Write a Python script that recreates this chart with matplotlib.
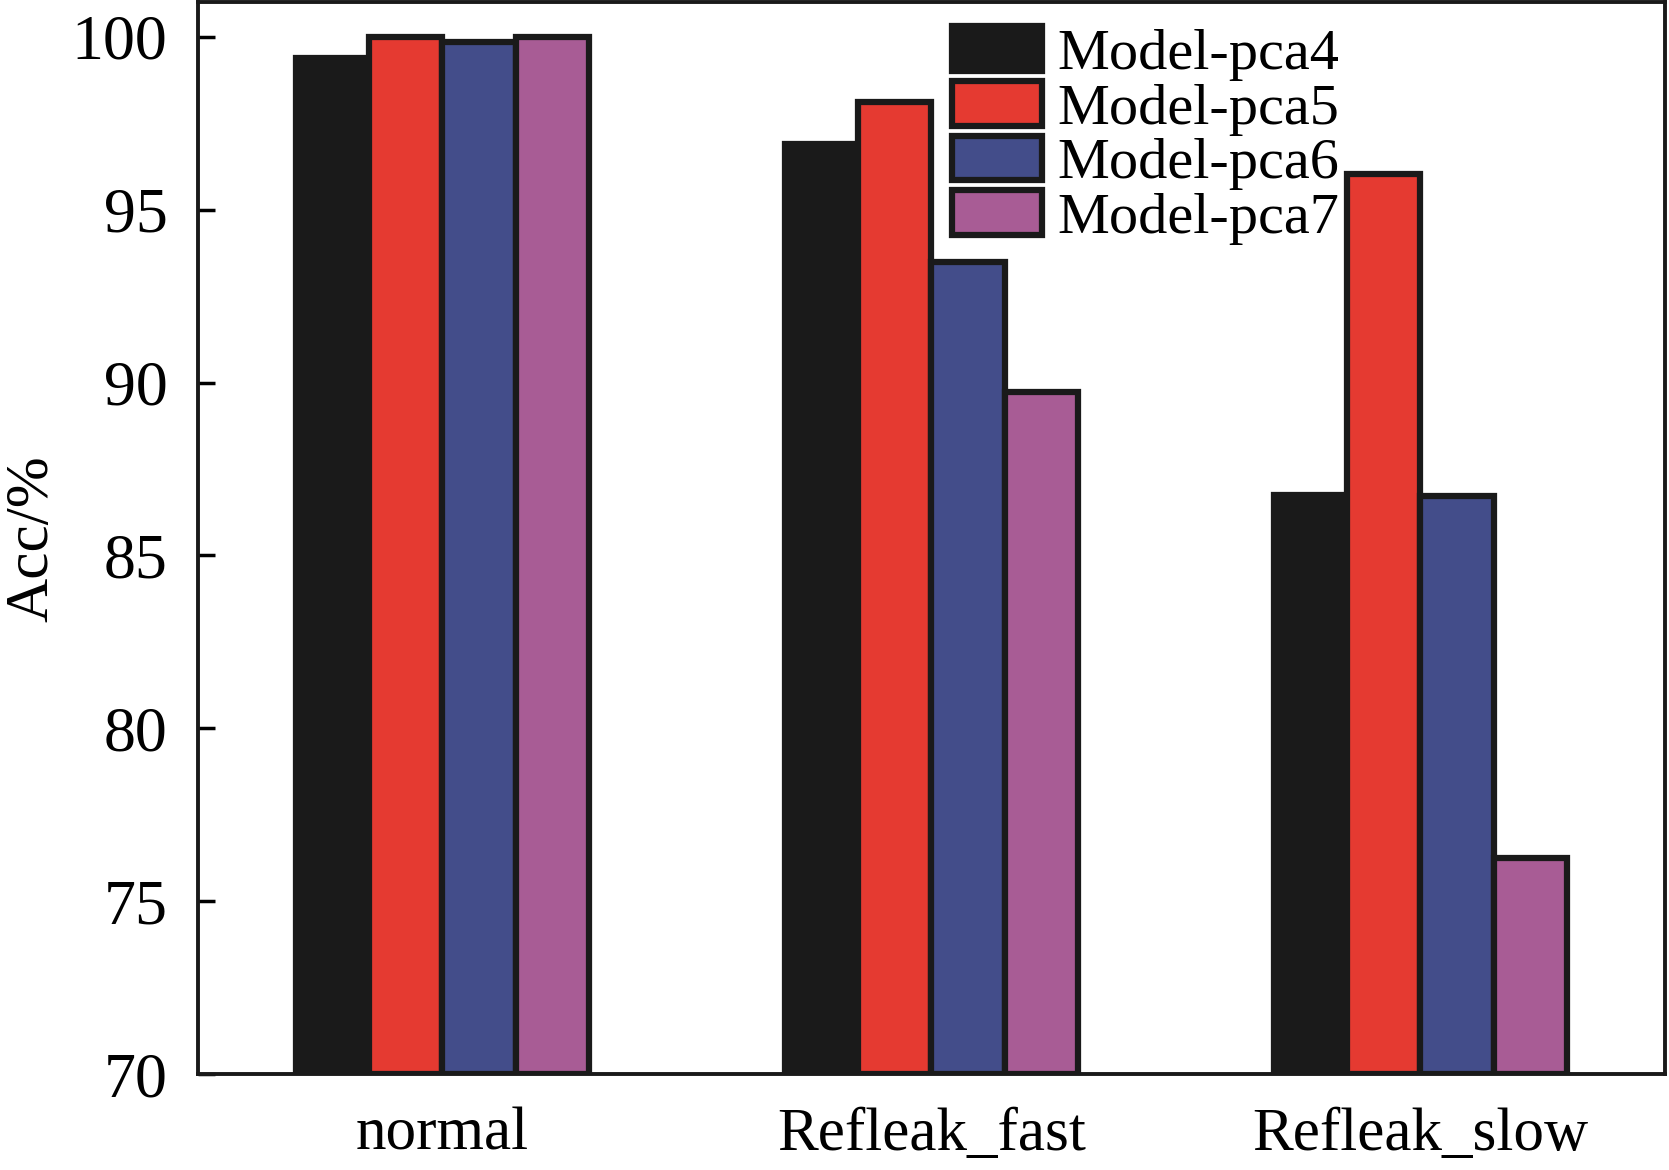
import matplotlib.pyplot as plt
import numpy as np

plt.rcParams['font.family'] = ['Liberation Serif', 'DejaVu Serif']

categories = ['normal', 'Refleak_fast', 'Refleak_slow']
series = ['Model-pca4', 'Model-pca5', 'Model-pca6', 'Model-pca7']
pca4 = [99.38, 96.89, 86.74]
pca5 = [100.0, 98.12, 96.03]
pca6 = [99.85, 93.50, 86.71]
pca7 = [100.0, 89.72, 76.25]
values = [pca4, pca5, pca6, pca7]
colors = ['#1a1a1a', '#e53a31', '#434d8a', '#a85c95']
edge = '#1a1a1a'

fig = plt.figure(figsize=(16.69, 11.70), dpi=100)
ax = fig.add_axes([0.1186, 0.082, 0.879, 0.916])

x = np.arange(len(categories))
w = 0.15
for i, (name, vals) in enumerate(zip(series, values)):
    ax.bar(x + (i - 1.5) * w, np.array(vals) - 70, w, bottom=70,
           color=colors[i], edgecolor=edge, linewidth=4.5, label=name, zorder=2)

ax.set_xlim(-0.5, 2.5)
ax.set_ylim(70, 101)
ax.set_yticks([70, 75, 80, 85, 90, 95, 100])
ax.set_xticks(x)
ax.set_xticklabels(categories)
ax.tick_params(axis='y', direction='in', length=12, width=2.5, labelsize=46, pad=22)
ax.tick_params(axis='x', length=0, labelsize=44, pad=24)
ax.set_ylabel('Acc/%', fontsize=44, labelpad=8)
for s in ax.spines.values():
    s.set_linewidth(2.8)
    s.set_color(edge)

ax.legend(loc='upper left', bbox_to_anchor=(0.51, 0.983), frameon=False,
          fontsize=42, handlelength=1.55, handleheight=0.8, labelspacing=0.0,
          handletextpad=0.25, borderpad=0.1, borderaxespad=0)

fig.savefig('out.png', dpi=100)
